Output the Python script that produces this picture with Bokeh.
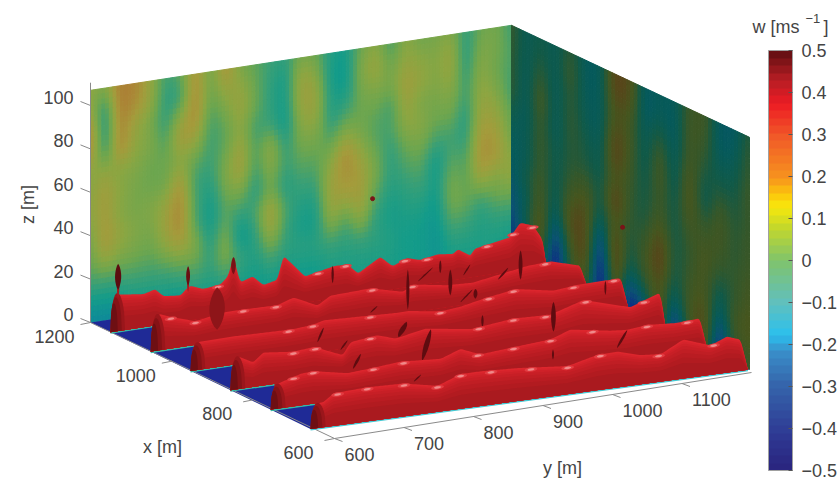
import numpy as np
from bokeh.core.properties import value
from bokeh.embed import file_html
from bokeh.models import ColorBar, FixedTicker, LinearColorMapper, Range1d
from bokeh.plotting import figure
from bokeh.resources import INLINE

# ---------- data ----------
z_ticks = [0, 20, 40, 60, 80, 100]
x_ticks = [600, 800, 1000, 1200]
y_ticks = [600, 700, 800, 900, 1000, 1100]
cbar_ticks = [-0.5, -0.4, -0.3, -0.2, -0.1, 0, 0.1, 0.2, 0.3, 0.4, 0.5]

# vertical velocity on the x=1200 wall: one list per column (y 600..1200), top (z=107) to bottom
w_left = [
    [.08, .10, .20, .18, .06, .08, .08, .04, .02, -.02, -.10, -.20],
    [.06, -.08, -.10, -.06, .10, .14, .14, .16, .12, -.02, -.10, -.20],
    [.22, .22, .20, .20, .06, .08, .06, .10, .06, -.02, -.10, -.20],
    [.20, .18, .10, .08, .06, .04, .04, .06, .04, -.02, -.08, -.15],
    [.10, .10, .04, .06, .02, .02, .06, .04, .02, -.03, -.08, -.15],
    [-.04, -.06, -.06, -.02, .02, .02, .10, .12, .08, -.02, -.08, -.15],
    [.00, -.06, .08, .16, .06, .16, .20, .20, .14, .00, -.08, -.15],
    [.18, .20, .20, .12, .02, -.04, -.02, -.02, .06, .02, -.06, -.12],
    [.02, .02, -.02, -.04, -.04, -.06, -.10, -.12, -.08, -.05, -.08, -.12],
    [.18, .10, .04, .00, .02, .06, .02, .00, .06, .06, -.06, -.12],
    [.04, .10, .12, .08, .14, .14, .04, -.06, -.14, -.04, -.08, -.12],
    [.00, .02, .02, -.04, -.02, -.04, -.08, -.02, -.06, -.08, -.10, -.12],
    [-.04, -.06, -.06, -.04, .10, .08, .02, .16, .12, .00, -.08, -.12],
    [-.06, -.10, -.10, -.12, -.06, -.04, -.08, -.02, -.04, -.06, -.10, -.12],
    [.04, .12, .12, .08, .04, .00, -.04, -.08, -.10, -.06, -.10, -.12],
    [.02, .08, .12, .10, .04, .00, -.04, -.08, -.10, -.06, -.10, -.12],
    [-.08, -.10, -.08, -.08, -.02, .06, .12, .12, .08, -.04, -.08, -.10],
    [-.10, -.12, -.10, -.02, .08, .20, .16, .12, -.02, -.06, -.08, -.10],
    [.02, .06, .04, .02, .04, .10, .14, .14, .10, -.04, -.08, -.10],
    [.08, .12, .06, .02, -.02, .02, .04, .00, -.06, -.06, -.08, -.10],
    [-.04, .02, .04, -.04, -.02, -.06, -.06, -.08, -.10, -.08, -.08, -.10],
    [.08, .10, .14, .12, .08, .02, -.02, -.06, -.08, -.10, -.10, -.10],
    [.02, .08, .10, .04, .08, .04, .00, -.04, -.08, -.10, -.10, -.10],
    [.04, .06, .06, .04, .02, -.04, -.12, -.10, -.12, -.14, -.14, -.14],
    [.06, .12, .10, .06, .02, -.04, .00, .04, .04, -.02, -.08, -.10],
    [-.06, -.08, -.06, -.04, -.08, -.06, -.02, .00, .02, -.04, -.08, -.10],
    [.02, .06, .08, .10, .12, .16, .18, .12, -.04, -.08, -.08, -.10],
    [.04, .04, .02, .06, .10, .14, .16, .06, .02, -.06, -.08, -.10],
    [-.04, -.02, -.02, -.04, .00, .02, .06, .10, .02, -.06, -.10, -.12],
]
# same on the y=1200 wall: one list per column (x 1200..600)
w_right = [
    [.04, .03, .02, .03, -.05, -.10, -.12, -.15, -.20, -.25, -.30, -.30],
    [-.10, -.10, -.12, -.12, -.12, -.10, -.10, -.05, -.10, -.05, -.20, -.30],
    [-.05, -.02, .05, .10, .05, .06, .05, .08, .12, .20, .10, -.10],
    [-.10, -.10, -.12, -.12, -.12, -.08, -.08, -.10, -.15, -.30, -.42, -.42],
    [.02, .06, .02, .03, .02, .00, .03, .10, .18, .10, .06, .00],
    [-.12, -.12, -.10, -.08, -.04, -.02, .08, .16, .18, .20, .16, .00],
    [-.12, -.12, -.12, -.12, -.10, -.08, -.06, -.10, -.25, -.38, -.44, -.44],
    [.22, .20, .12, .20, .22, .12, .24, .12, .22, .24, .18, .05],
    [.16, .14, .08, .08, .06, .04, .02, .00, -.05, -.10, -.30, -.42],
    [-.15, -.15, -.12, -.10, -.08, -.05, -.04, .02, .08, .04, -.10, -.30],
    [-.10, -.10, .00, .08, .10, .06, .10, .20, .24, .14, .18, .10],
    [-.12, -.14, -.14, -.12, -.10, -.06, -.06, -.04, -.06, -.10, -.25, -.40],
    [.06, .08, .08, .12, .16, .12, .06, .02, .06, .08, .10, .00],
    [.08, .06, .02, -.05, -.10, .00, .08, .12, .10, .14, .20, .12],
    [-.14, -.14, -.10, -.04, .06, .10, .08, .02, -.08, -.16, -.30, -.42],
    [-.14, -.12, -.08, -.05, -.02, .00, .00, .02, .02, .08, .06, .00],
    [.00, .03, .04, .06, .04, .05, .06, .08, .10, .12, .10, .03],
]

# x of each wake ridge at its two ends, front row first
row_x_start = [659, 757, 856, 954, 1052, 1151]
row_x_end = [600, 711, 819, 930, 1039, 1145]

# crest of each ridge: station along the row (600..1150 is the full row) and height [m]
row0_s = [600, 604, 610, 616, 629, 671, 716, 759, 788, 813, 859, 922, 960, 985, 1013, 1039, 1067, 1101, 1122, 1139, 1148]
row0_z = [0, 6, 11.5, 11.5, 15, 15.7, 15.2, 12, 16, 16, 15.2, 13, 16.4, 16.5, 13.5, 12.7, 18, 13.6, 16.6, 14.3, 0]
row1_s = [600, 606, 609, 638, 654, 697, 726, 764, 815, 840, 865, 907, 954, 979, 1030, 1051, 1076, 1112, 1143, 1152]
row1_z = [0, 8.5, 11.5, 14.6, 15, 11.9, 12.6, 13.8, 12.5, 15.8, 12, 13.2, 14.4, 17.6, 14.5, 13.8, 14.8, 13.8, 14.4, 0]
row2_s = [600, 603, 609, 629, 642, 680, 706, 743, 753, 787, 810, 848, 906, 960, 1007, 1049, 1109, 1147, 1154]
row2_z = [0, 9.5, 15.2, 11.3, 15.2, 13.6, 14.5, 8.8, 14.3, 15.7, 13, 15.6, 12.4, 14.5, 13.8, 18.4, 12, 16.8, 0]
row3_s = [600, 603, 610, 655, 732, 757, 771, 829, 863, 879, 921, 947, 976, 1018, 1066, 1097, 1153, 1162]
row3_z = [0, 5.4, 12.8, 13, 12.3, 13, 14.3, 13.4, 12.8, 12.9, 10.5, 11.3, 13.4, 15.7, 12.4, 13.4, 13.6, 0]
row4_s = [600, 604, 610, 626, 658, 694, 720, 764, 785, 816, 833, 885, 927, 939, 984, 1017, 1088, 1118, 1156, 1165]
row4_z = [0, 8, 16.9, 14.6, 10.9, 13, 13, 12.6, 15, 9.7, 13.3, 13.9, 10, 12.7, 10, 9.4, 13.3, 13.8, 9.8, 0]
row5_s = [600, 604, 606, 613, 643, 658, 669, 691, 699, 704, 721, 743, 753, 760, 766, 769, 785, 799, 817, 825, 838, 853, 890,
          908, 922, 951, 967, 986, 1003, 1025, 1046, 1052, 1068, 1074, 1120, 1133, 1150, 1162, 1167]
row5_z = [0, 11.5, 17.5, 16.6, 15.2, 16.6, 12.9, 12, 14.7, 15.7, 13.4, 14.3, 17.5, 26.3, 17.5, 13.8, 15.7, 11, 12.4, 23, 18, 12, 14.7,
          14.7, 9.7, 15.7, 10.6, 13.4, 11.5, 12.9, 12, 13.8, 10, 12.9, 15.7, 21.7, 19.4, 12.4, 0]
row_s = [row0_s, row1_s, row2_s, row3_s, row4_s, row5_s]
row_z = [row0_z, row1_z, row2_z, row3_z, row4_z, row5_z]

# bright spots on the crests (stations)
glint0 = [634, 671, 717, 759, 788, 826, 876, 922, 963, 1036, 1105]
glint1 = [629, 654, 730, 768, 862, 907, 954, 1007, 1076, 1127]
glint2 = [680, 708, 778, 916, 960, 1001, 1052, 1126]
glint3 = [726, 757, 831, 921, 983, 1015, 1092, 1144]
glint4 = [626, 658, 720, 762, 887, 939, 1111]
glint5 = [740, 870, 906, 983, 1012, 1090, 1124, 1149]
glints = [glint0, glint1, glint2, glint3, glint4, glint5]

# dark folds of the surface: row, from (station, z) to (station, z), width
fold_row = [5, 5, 5, 5, 5, 4, 5, 4, 5, 4, 5, 4, 5, 3, 3, 2, 1, 2, 2, 1, 4, 4, 3, 3, 3, 2, 1, 1]
fold_s0 = [610, 610, 701, 701, 760, 686, 889, 933, 1029, 988, 1000, 1001, 1059, 831, 763, 740, 704, 814, 844, 781, 1079, 1050, 975, 966, 1133, 1011, 957, 1038]
fold_z0 = [15, 19, 13, 16, 18, 5.5, 6.9, 1.4, 4, 5, 1.8, 1.2, 1.4, 14.6, 4.6, 11.3, 13.4, 13.4, 1, 3.7, 7.4, 9, .5, 14, 6.9, 5.7, 5, 6]
fold_s1 = [610, 610, 701, 701, 760, 686, 889, 933, 1029, 988, 1020, 1017, 1068, 840, 771, 749, 714, 824, 855, 790, 1079, 1063, 975, 966, 1133, 1011, 957, 1051]
fold_z1 = [24, 31, 19, 25, 26, 25, 15, 20, 10, 17, 7.4, 6.3, 6, 17.3, 11, 15.4, 20, 20, 15, 6.5, 21, 13.8, 6, 18.5, 13.4, 19.6, 9.5, 13.8]
fold_w = [3, 8, 2.5, 5, 6, 20, 3, 4, 3, 5, 3, 3, 2.5, 3, 3, 3, 4, 8, 7, 3, 5, 4, 3, 5, 2.5, 6, 2.5, 4]
fold_c = ["#a81c20", "#5c0c10", "#a81c20", "#6a0e12", "#7a1015", "#8e1519"] + ["#5e0c10"] * 22

# small fragments of the surface seen against the walls
blip_x, blip_y, blip_z = [1200, 920], [1002, 1200], [37, 38]

# colour scale of the bar
cbar_stops_v = [-.5, -.42, -.3, -.22, -.18, -.1, 0, .08, .13, .16, .2, .3, .38, .44, .5]
cbar_stops_c = ["#2a2680", "#2f3a94", "#3566ac", "#3a8fca", "#2cc0ee", "#62c0bc", "#80c46c", "#c4d82c", "#f8e80c", "#fcc80c",
                "#f7941e", "#f15a29", "#ed1c24", "#b51e24", "#6a1014"]
left_stops_v = [-.45, -.3, -.18, -.1, -.04, .02, .08, .14, .2, .28]
left_stops_c = ["#16208c", "#135a9a", "#0f8c98", "#149c8a", "#3aa076", "#6ca650", "#8ca642", "#a49c3c", "#ac8436", "#a4662e"]
right_stops_v = [-.45, -.32, -.2, -.12, -.05, .03, .1, .17, .25]
right_stops_c = ["#10157e", "#0e2f86", "#0b5272", "#065a5c", "#125a48", "#34582c", "#46561f", "#55491b", "#653c18"]
ridge_levels = [1.0, .95, .9, .84, .76, .66, .54, .4]
ridge_colors = ["#dc262d", "#d5232b", "#ce2128", "#c71f26", "#c01e24", "#b91c22", "#b21b20", "#aa1a1f"]


# ---------- helpers ----------
def rgb(h):
    return [int(h[i:i + 2], 16) for i in (1, 3, 5)]


def ramp(v, stops_v, stops_c):
    a = np.array([rgb(c) for c in stops_c], float)
    out = [np.interp(v, stops_v, a[:, k]) for k in range(3)]
    return ["#%02x%02x%02x" % (int(r), int(g), int(b)) for r, g, b in zip(*out)]


SCALE_Z = 2.17
WALL_TOP = 107.0


def project(x, y, z=0.0):
    x, y, z = np.asarray(x, float), np.asarray(y, float), np.asarray(z, float)
    u, v = (x - 600) / 600, (y - 600) / 600
    sx = (1 - u) * (1 - v) * 334 + u * (1 - v) * 90 + (1 - u) * v * 749 + u * v * 511
    sy = (1 - u) * (1 - v) * 440 + u * (1 - v) * 322 + (1 - u) * v * 369 + u * v * 257
    return sx, sy - SCALE_Z * z


def axis_project(x, y, z=0.0):
    x, y, z = np.asarray(x, float), np.asarray(y, float), np.asarray(z, float)
    u, v = (x - 600) / 600, (y - 600) / 600
    sx = 334 - 244 * u + 417 * v
    sy = 438 - 116 * u - 66 * v
    return sx, sy - SCALE_Z * z


def row_point(r, s, z):
    t = (np.asarray(s, float) - 600) / 550
    x = row_x_start[r] + (row_x_end[r] - row_x_start[r]) * t
    y = 600 + 600 * t
    return project(x, y, z)


def rounded_crest(s, z):
    """Draws the read crest with a soft outline, as the shaded surface has."""
    dense = np.arange(s[0], s[-1] + 1, 2.0)
    zd = np.interp(dense, s, z)
    soft = np.convolve(np.r_[zd[0], zd, zd[-1]], [.25, .5, .25], "valid")
    soft[0], soft[-1] = zd[0], zd[-1]
    return dense, soft


def shaded(cols, sub=4):
    """Interpolated shading of the value grid, as on the source surface."""
    arr = np.array(cols, float)
    nc, nz = arr.shape
    ci = np.linspace(0, nc - 1, (nc - 1) * sub + 1)
    zi = np.linspace(0, nz - 1, (nz - 1) * sub + 1)
    d = np.array([np.interp(zi, np.arange(nz), arr[i]) for i in range(nc)])
    d = np.array([np.interp(ci, np.arange(nc), d[:, j]) for j in range(d.shape[1])]).T
    ku = np.array([1, 2, 3, 2, 1], float) / 9
    kv = np.array([1, 2, 3, 4, 3, 2, 1], float) / 16
    d = np.apply_along_axis(lambda a: np.convolve(np.pad(a, 2, mode="edge"), ku, "valid"), 0, d)
    d = np.apply_along_axis(lambda a: np.convolve(np.pad(a, 3, mode="edge"), kv, "valid"), 1, d)
    return d


def wall_patches(cols, pos_a, pos_b, stops_v, stops_c, sub=4):
    d = shaded(cols, sub)
    nu, nv = d.shape
    xs, ys, vals = [], [], []
    for i in range(nu - 1):
        t0, t1 = i / (nu - 1), (i + 1) / (nu - 1)
        a0, a1, b0, b1 = pos_a(t0), pos_a(t1), pos_b(t0), pos_b(t1)
        for j in range(nv - 1):
            h0, h1 = WALL_TOP * (1 - j / (nv - 1)), WALL_TOP * (1 - (j + 1) / (nv - 1))
            sx, sy = project([a0, a1, a1, a0], [b0, b1, b1, b0], [h0, h0, h1, h1])
            xs.append(sx.tolist())
            ys.append(sy.tolist())
            vals.append(d[i:i + 2, j:j + 2].mean())
    return xs, ys, ramp(np.array(vals), stops_v, stops_c)


def spindle(r, s0, z0, s1, z1, w):
    t = np.linspace(0, 1, 13)
    s = s0 + (s1 - s0) * t
    z = z0 + (z1 - z0) * t
    half = w / 2 * np.sin(np.pi * t) ** 0.7
    return row_point(r, np.r_[s - half, (s + half)[::-1]], np.r_[z, z[::-1]])


def dome(r, width, height, lean=.45):
    s = np.linspace(0, 1, 17)
    peak = np.where(s < lean, (s / lean), ((1 - s) / (1 - lean)))
    z = height * np.sqrt(np.clip(1 - (1 - peak) ** 2, 0, 1))
    return row_point(r, 600 + s * width, z)


# ---------- figure ----------
p = figure(width=838, height=481, output_backend="svg", toolbar_location=None,
           x_range=Range1d(0, 838), y_range=Range1d(481, 0), min_border=0,
           outline_line_color=None, background_fill_color="white")
p.xaxis.visible = False
p.yaxis.visible = False
p.grid.visible = False

# walls
xs, ys, cs = wall_patches(w_left, lambda t: 1200.0, lambda t: 600 + 600 * t, left_stops_v, left_stops_c)
p.patches(xs, ys, fill_color=cs, line_color=cs, line_width=1.0)
xs, ys, cs = wall_patches(w_right, lambda t: 1200 - 600 * t, lambda t: 1200.0, right_stops_v, right_stops_c)
p.patches(xs, ys, fill_color=cs, line_color=cs, line_width=1.0)
bx, by = project(blip_x, blip_y, blip_z)
p.scatter(bx, by, size=4, color="#7a1418")

# floor
fx = [row_x_start[0], 1200, 1200, row_x_end[0]]
fy = [600, 600, 1200, 1200]
sx, sy = project(fx, fy)
p.patch(sx, sy, fill_color="#1f2a96", line_color=None)

# axes
GREY = "#8a8a8a"
ax, ay = axis_project([1200, 600, 600], [600, 600, 1200])
p.line(ax, ay, line_color=GREY, line_width=1)
zx, zy = axis_project([1200, 1200], [600, 600], [0, 110.5])
p.line(zx, zy, line_color=GREY, line_width=1)

tx, ty = axis_project([1200] * len(z_ticks), [600] * len(z_ticks), z_ticks)
p.segment(tx, ty, tx - 10, ty - 4, line_color=GREY, line_width=1)
LABEL = dict(text_color="#444444", text_font=value("Liberation Sans"), text_font_size="18px", text_baseline="middle")
p.text(tx - 17, ty - 8, text=[str(v) for v in z_ticks], text_align="right", **LABEL)

tx, ty = axis_project(x_ticks, [600] * len(x_ticks))
p.segment(tx, ty, tx - 10, ty + 2, line_color=GREY, line_width=1)
p.text(tx - 36, ty + 14, text=[str(v) for v in x_ticks], text_align="center", **LABEL)

tx, ty = axis_project([600] * len(y_ticks), y_ticks)
p.segment(tx, ty, tx + 8, ty + 3, line_color=GREY, line_width=1)
p.text(tx + 10, ty + 16, text=[str(v) for v in y_ticks], text_align="left", **LABEL)

p.text([162], [446], text=["x [m]"], text_align="center", **LABEL)
p.text([562], [467], text=["y [m]"], text_align="center", **LABEL)
p.text([27], [204], text=["z [m]"], text_align="center", angle=[np.pi / 2], **LABEL)

# ridges, back to front
for r in range(5, -1, -1):
    s = np.array(row_s[r], float)
    z = np.array(row_z[r], float)
    sd, zd = rounded_crest(s, z)
    bx0, by0 = row_point(r, [s[0], s[-1]], [0, 0])
    p.line(bx0, by0 + 0.8, line_color="#46c8d2" if r == 0 else "#38b8a4", line_width=1.6)
    p.line(bx0, by0 - 0.5, line_color="#c8a830", line_width=0.8)
    lx, ly, lc = [], [], []
    if r > 0:  # the flank of the ridge reaches forward under the next one
        keep = sd >= 655
        fx_, fy_ = row_point(r, np.r_[sd[keep], sd[keep][-1], sd[keep][0]], np.r_[zd[keep] * .4, -7, -7])
        lx.append(fx_.tolist())
        ly.append(fy_.tolist())
        lc.append(ridge_colors[-1])
    for lev, col in zip(ridge_levels, ridge_colors):
        px_, py_ = row_point(r, np.r_[sd, sd[-1], sd[0]], np.r_[zd * lev, 0, 0])
        lx.append(px_.tolist())
        ly.append(py_.tolist())
        lc.append(col)
    p.patches(lx, ly, fill_color=lc, line_color=None)

    cap_h = z[2]
    dx, dy, dc = [], [], []
    for frac, col in ((1.0, "#9a161b"), (.78, "#861216"), (.5, "#6e0f13")):
        cx_, cy_ = dome(r, 19 * frac, cap_h * (1 if frac == 1.0 else .5 + .5 * frac))
        dx.append(cx_.tolist())
        dy.append(cy_.tolist())
        dc.append(col)
    p.patches(dx, dy, fill_color=dc, line_color=None)

    gx, gy, gc = [], [], []
    for g in glints[r]:
        zc = np.interp(g, sd, zd) - 0.9
        ang = np.linspace(0, 2 * np.pi, 15)
        for scale, col in ((1.0, "#e23c42"), (.55, "#f08a8a")):
            ex_, ey_ = row_point(r, g + 8 * scale * np.cos(ang), zc + 1.0 * scale * np.sin(ang))
            gx.append(ex_.tolist())
            gy.append(ey_.tolist())
            gc.append(col)
    p.patches(gx, gy, fill_color=gc, line_color=None)

    idx = [i for i, fr in enumerate(fold_row) if fr == r]
    if idx:
        kx, ky, kc = [], [], []
        for i in idx:
            ex_, ey_ = spindle(r, fold_s0[i], fold_z0[i], fold_s1[i], fold_z1[i], fold_w[i])
            kx.append(ex_.tolist())
            ky.append(ey_.tolist())
            kc.append(fold_c[i])
        p.patches(kx, ky, fill_color=kc, line_color=None)

# colour bar
palette = ramp(np.linspace(-.5, .5, 56), cbar_stops_v, cbar_stops_c)
mapper = LinearColorMapper(palette=palette, low=-.5, high=.5)
overrides = {v: ("0" if v == 0 else f"{v:.1f}".replace("-", "\u2212")) for v in cbar_ticks}
bar = ColorBar(color_mapper=mapper, ticker=FixedTicker(ticks=cbar_ticks), major_label_overrides=overrides,
               location=(768, 11), width=24, height=420, padding=0, margin=0,
               bar_line_color="#a0a0a0", bar_line_width=1,
               major_tick_line_color="#555555", major_tick_in=4, minor_tick_line_color=None,
               major_label_text_color="#444444", major_label_text_font="Liberation Sans",
               major_label_text_font_size="18px", label_standoff=9,
               border_line_color=None, background_fill_color=None)
p.add_layout(bar, "center")

UNIT = dict(text_color="#444444", text_font=value("Liberation Sans"), text_baseline="middle")
p.text([752], [26], text=["w [ms"], text_font_size="18px", **UNIT)
p.text([805], [18], text=["\u22121"], text_font_size="13px", **UNIT)
p.text([823], [26], text=["]"], text_font_size="18px", **UNIT)

open("out.html", "w").write(file_html(p, INLINE))
